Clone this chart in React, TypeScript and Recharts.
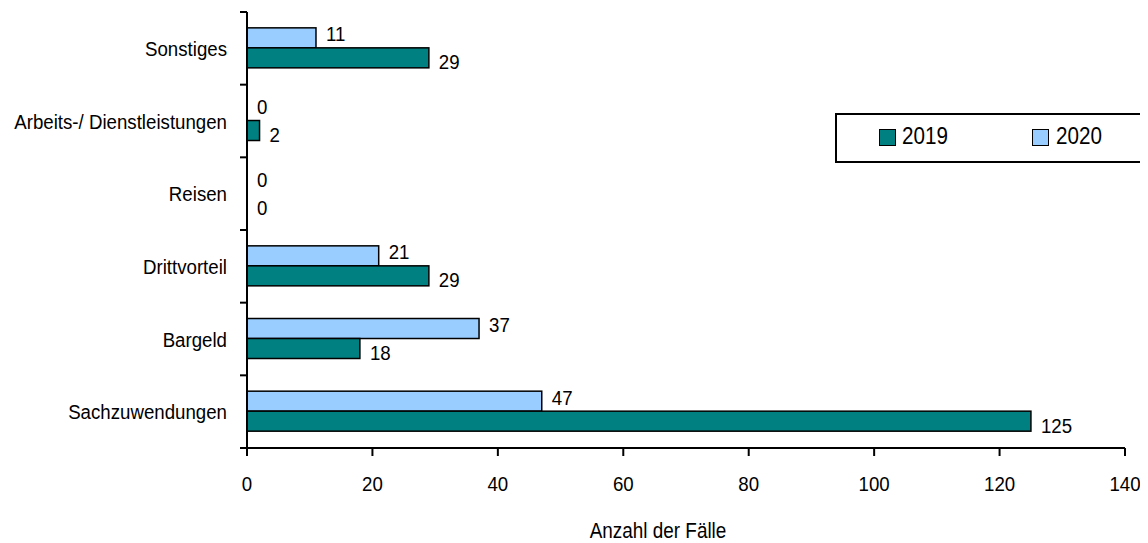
import React from 'react';
import { BarChart, Bar, XAxis, YAxis, LabelList } from 'recharts';

const categories = ['Sonstiges', 'Arbeits-/ Dienstleistungen', 'Reisen', 'Drittvorteil', 'Bargeld', 'Sachzuwendungen'];
const values2019 = [29, 2, 0, 29, 18, 125];
const values2020 = [11, 0, 0, 21, 37, 47];
const xTicks = [0, 20, 40, 60, 80, 100, 120, 140];

const COLOR_2019 = '#008080';
const COLOR_2020 = '#99CCFF';
const FONT = '"Liberation Sans", Arial, sans-serif';
const FS = 21;
const SX = 0.89;

const data = categories.map((name, i) => ({ name, v2019: values2019[i], v2020: values2020[i] }));

const SText = ({ x, y, anchor = 'start', size = FS, sx = SX, dy = '0.36em', children }: any) => (
  <text
    transform={`translate(${x},${y}) scale(${sx},1)`}
    x={0}
    y={0}
    dy={dy}
    fontSize={size}
    fontFamily={FONT}
    fill="#000"
    textAnchor={anchor}
  >
    {children}
  </text>
);

const makeLabel = (dy: number) => (props: any) => {
  const { x, y, width, height, value } = props;
  return (
    <SText x={Number(x) + Math.max(Number(width), 0) + 10} y={Number(y) + Number(height) / 2 + dy}>
      {value}
    </SText>
  );
};

const renderBarShape = (props: any) => {
  const { x, y, width, height, fill, value } = props;
  const v = Array.isArray(value) ? value[1] - value[0] : value;
  if (!v) return <g />;
  return <rect x={x} y={y} width={width} height={height} fill={fill} stroke="#000" strokeWidth={1.5} />;
};

const YTick = (props: any) => {
  const { x, y, payload, index, visibleTicksCount } = props;
  const axisX = Number(x) + 13 + 7;
  const half = payload && payload.offset ? payload.offset : 36.33;
  const isLast = index === (visibleTicksCount ?? categories.length) - 1;
  return (
    <g>
      <line x1={axisX - 7} x2={axisX} y1={y - half} y2={y - half} stroke="#000" strokeWidth={2} />
      {isLast && <line x1={axisX - 7} x2={axisX} y1={y + half} y2={y + half} stroke="#000" strokeWidth={2} />}
      <SText x={x} y={y} anchor="end">
        {payload.value}
      </SText>
    </g>
  );
};

const XTick = (props: any) => {
  const { x, y, payload } = props;
  return (
    <SText x={x} y={y} anchor="middle" dy="0.72em">
      {payload.value}
    </SText>
  );
};

const AxisLabel = (props: any) => {
  const vb = props.viewBox || {};
  return (
    <SText x={vb.x + vb.width / 2 - 28} y={vb.y + vb.height - 5} anchor="middle" size={22} sx={0.86} dy={0}>
      Anzahl der Fälle
    </SText>
  );
};

const legendItems = [
  { label: '2019', color: COLOR_2019, sq: 44, tx: 67 },
  { label: '2020', color: COLOR_2020, sq: 197, tx: 221 },
];

const LegendBox = () => (
  <div
    style={{
      position: 'absolute',
      left: 827,
      top: 105,
      boxSizing: 'border-box',
      width: 309,
      height: 50,
      border: '2px solid #000',
      background: '#fff',
      fontFamily: FONT,
      fontSize: 24,
      color: '#000',
    }}
  >
    {legendItems.map((it) => (
      <React.Fragment key={it.label}>
        <span
          style={{
            position: 'absolute',
            left: it.sq - 2,
            top: 14,
            boxSizing: 'border-box',
            width: 17,
            height: 17,
            background: it.color,
            border: '1.5px solid #000',
          }}
        />
        <span
          style={{
            position: 'absolute',
            left: it.tx - 2,
            top: 7,
            lineHeight: '28px',
            transform: 'scaleX(0.86)',
            transformOrigin: 'left center',
            whiteSpace: 'nowrap',
          }}
        >
          {it.label}
        </span>
      </React.Fragment>
    ))}
  </div>
);

export default function App() {
  return (
    <div style={{ width: 1140, height: 535, position: 'relative', fontFamily: FONT }}>
      <BarChart
        width={1140}
        height={535}
        data={data}
        layout="vertical"
        margin={{ top: 4, right: 23, bottom: 0, left: 0 }}
        barGap={0}
        barCategoryGap="21.8%"
      >
        <XAxis
          type="number"
          domain={[0, 140]}
          ticks={xTicks}
          interval={0}
          height={95}
          tickSize={8}
          tickMargin={20}
          axisLine={{ stroke: '#000', strokeWidth: 2 }}
          tickLine={{ stroke: '#000', strokeWidth: 2 }}
          tick={<XTick />}
          label={<AxisLabel />}
        />
        <YAxis
          type="category"
          dataKey="name"
          width={239}
          axisLine={{ stroke: '#000', strokeWidth: 2 }}
          tickLine={false}
          tickSize={7}
          tickMargin={13}
          interval={0}
          tick={<YTick />}
        />
        <Bar dataKey="v2020" name="2020" fill={COLOR_2020} stroke="#000" strokeWidth={1.5} minPointSize={0.01} shape={renderBarShape} isAnimationActive={false}>
          <LabelList dataKey="v2020" content={makeLabel(-4)} />
        </Bar>
        <Bar dataKey="v2019" name="2019" fill={COLOR_2019} stroke="#000" strokeWidth={1.5} minPointSize={0.01} shape={renderBarShape} isAnimationActive={false}>
          <LabelList dataKey="v2019" content={makeLabel(4)} />
        </Bar>
      </BarChart>
      <LegendBox />
    </div>
  );
}
